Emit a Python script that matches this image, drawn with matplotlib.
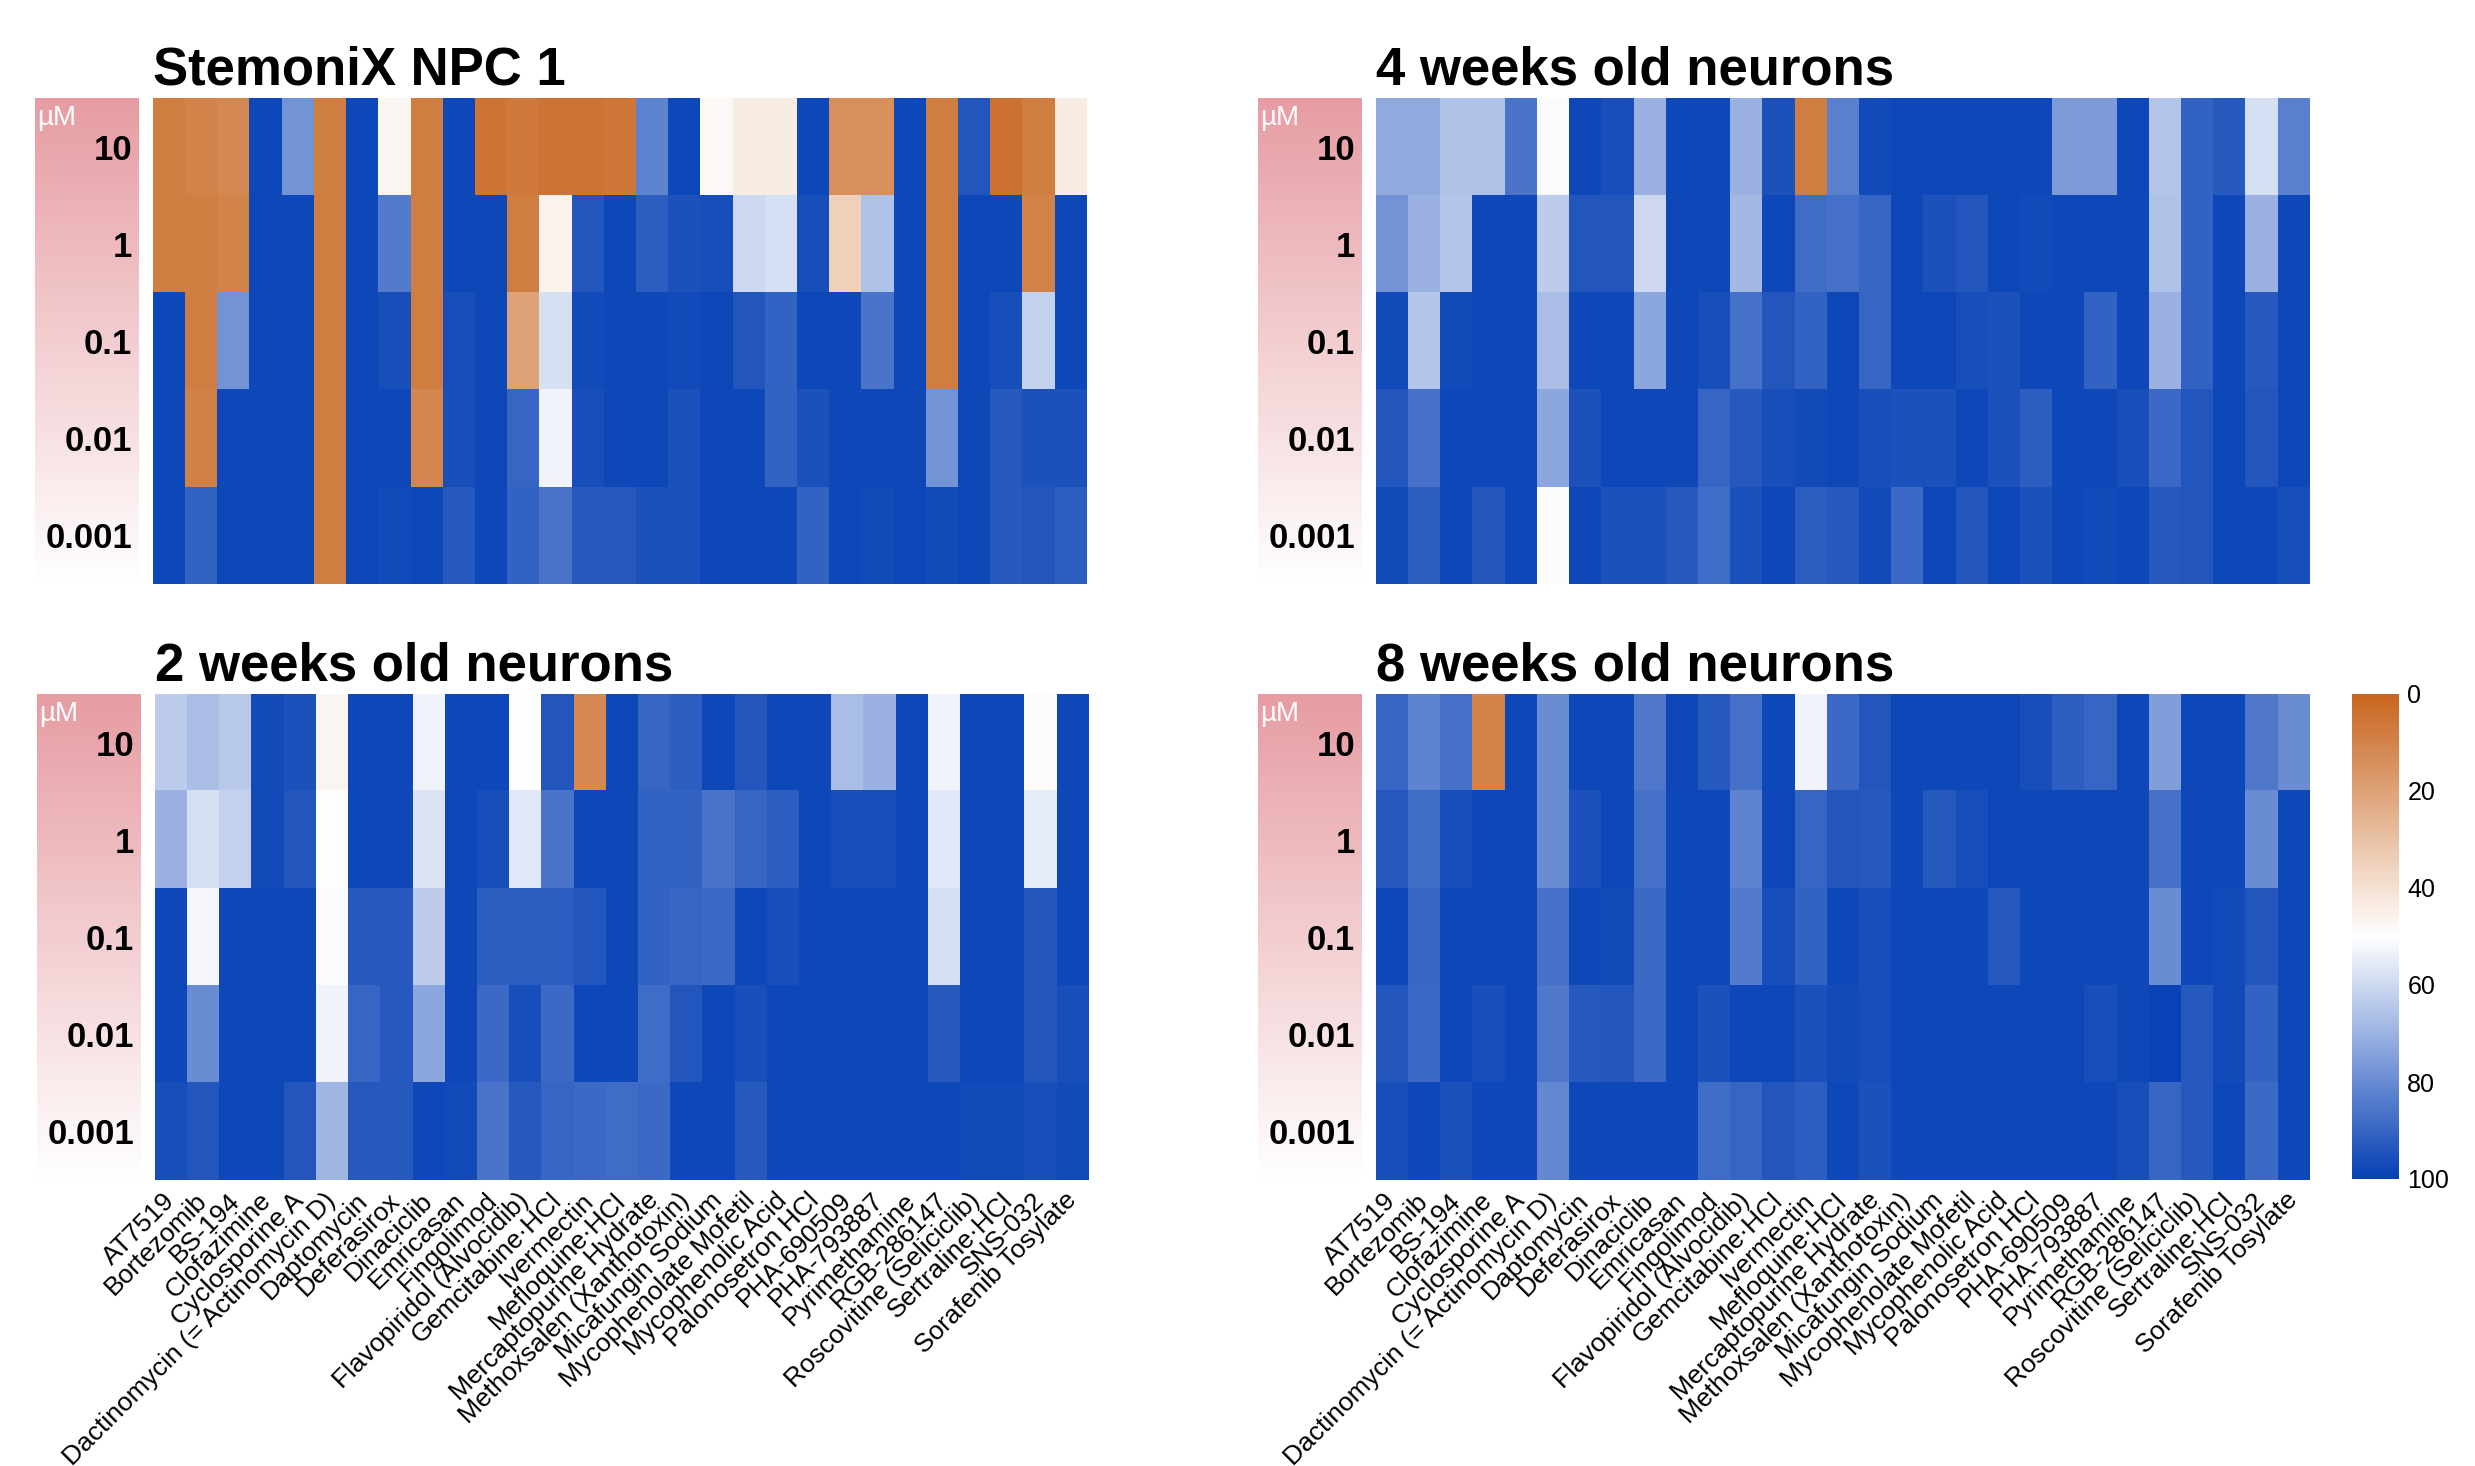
import numpy as np
import matplotlib
matplotlib.use("Agg")
import matplotlib.pyplot as plt
from matplotlib.colors import LinearSegmentedColormap

plt.rcParams['font.family'] = ['Liberation Sans', 'DejaVu Sans']

# Data (viability %, rows = concentration, cols = drugs)
drugs = ["AT7519", "Bortezomib", "BS-194", "Clofazimine", "Cyclosporine A",
         "Dactinomycin (= Actinomycin D)", "Daptomycin", "Deferasirox", "Dinaciclib",
         "Emricasan", "Fingolimod", "Flavopiridol (Alvocidib)", "Gemcitabine·HCl",
         "Ivermectin", "Mefloquine·HCl", "Mercaptopurine Hydrate",
         "Methoxsalen (Xanthotoxin)", "Micafungin Sodium", "Mycophenolate Mofetil",
         "Mycophenolic Acid", "Palonosetron HCl", "PHA-690509", "PHA-793887",
         "Pyrimethamine", "RGB-286147", "Roscovitine (Seliciclib)", "Sertraline·HCl",
         "SNS-032", "Sorafenib Tosylate"]
conc = ["10", "1", "0.1", "0.01", "0.001"]

npc1 = [
    [8, 10, 12, 98, 78, 8, 98, 47, 8, 98, 5, 7, 5, 5, 6, 82, 98, 48, 44, 44, 98, 14, 14, 98, 8, 94, 4, 8, 44],
    [8, 8, 10, 98, 98, 8, 98, 84, 8, 98, 98, 8, 46, 94, 98, 92, 95, 96, 60, 58, 96, 35, 66, 98, 8, 98, 98, 10, 98],
    [98, 8, 78, 98, 98, 8, 98, 96, 8, 96, 98, 20, 58, 97, 98, 98, 97, 98, 94, 91, 98, 98, 86, 98, 8, 98, 96, 62, 98],
    [98, 9, 98, 98, 98, 8, 98, 98, 11, 96, 98, 90, 53, 96, 98, 98, 95, 98, 98, 91, 95, 98, 98, 98, 78, 98, 93, 95, 95],
    [98, 91, 98, 98, 98, 8, 98, 97, 98, 93, 98, 91, 86, 93, 93, 95, 95, 98, 98, 98, 91, 98, 97, 98, 97, 98, 93, 94, 92],
]
wk4 = [
    [72, 72, 66, 66, 86, 51, 98, 96, 70, 98, 98, 70, 95, 8, 83, 97, 98, 98, 98, 98, 98, 76, 76, 98, 65, 91, 93, 58, 83],
    [78, 70, 65, 98, 98, 63, 94, 94, 60, 98, 98, 68, 98, 88, 87, 90, 98, 95, 94, 98, 97, 98, 98, 98, 66, 91, 98, 70, 98],
    [97, 65, 97, 98, 98, 67, 98, 98, 73, 98, 96, 87, 94, 91, 98, 90, 98, 98, 96, 95, 98, 98, 91, 98, 70, 91, 98, 93, 98],
    [94, 87, 98, 98, 98, 73, 95, 98, 98, 98, 90, 93, 96, 97, 98, 96, 95, 95, 98, 95, 92, 98, 98, 96, 89, 94, 98, 94, 98],
    [97, 92, 98, 94, 98, 49, 98, 95, 95, 93, 88, 95, 98, 92, 93, 97, 89, 98, 94, 98, 95, 98, 97, 98, 93, 94, 98, 98, 96],
]
wk2 = [
    [63, 67, 64, 97, 95, 47, 98, 98, 53, 98, 98, 50, 94, 12, 98, 90, 92, 98, 94, 98, 98, 67, 70, 98, 53, 98, 98, 49, 98],
    [70, 58, 62, 97, 94, 50, 98, 98, 57, 98, 96, 56, 86, 98, 98, 91, 91, 86, 90, 92, 98, 96, 96, 98, 56, 98, 98, 55, 98],
    [98, 52, 98, 98, 98, 51, 93, 93, 63, 98, 92, 92, 92, 94, 98, 91, 90, 89, 98, 96, 98, 98, 98, 98, 58, 98, 98, 94, 98],
    [98, 80, 98, 98, 98, 53, 90, 93, 73, 98, 89, 96, 89, 98, 98, 88, 94, 98, 96, 98, 98, 98, 98, 98, 93, 98, 98, 94, 96],
    [96, 94, 98, 98, 94, 69, 93, 93, 98, 97, 86, 93, 90, 89, 88, 89, 98, 98, 93, 98, 98, 98, 98, 98, 98, 97, 97, 96, 97],
]
wk8 = [
    [90, 82, 87, 10, 98, 80, 98, 98, 85, 98, 93, 87, 98, 53, 89, 94, 98, 98, 98, 98, 96, 92, 90, 98, 75, 98, 98, 85, 80],
    [93, 88, 96, 98, 98, 80, 95, 98, 87, 98, 98, 82, 98, 90, 94, 93, 98, 93, 96, 98, 98, 98, 98, 98, 87, 98, 98, 80, 98],
    [98, 90, 98, 98, 98, 87, 98, 97, 89, 98, 98, 84, 96, 91, 98, 96, 98, 98, 98, 93, 98, 98, 98, 98, 80, 98, 97, 94, 98],
    [94, 89, 98, 96, 98, 85, 93, 94, 89, 98, 95, 98, 98, 95, 97, 96, 98, 98, 98, 98, 98, 98, 96, 98, 99, 93, 97, 91, 98],
    [96, 98, 95, 98, 98, 81, 98, 98, 98, 98, 88, 90, 94, 92, 98, 95, 98, 98, 98, 98, 98, 98, 98, 96, 90, 93, 98, 89, 98],
]

# Layout helpers (pixel boxes -> figure fractions)
W, H = 2475, 1466


def box(x0, y0, x1, y1):
    return [x0 / W, 1 - y1 / H, (x1 - x0) / W, (y1 - y0) / H]


cmap = LinearSegmentedColormap.from_list("ob", [(0, "#c8651e"), (0.5, "#ffffff"), (1, "#0540b5")])
pink = LinearSegmentedColormap.from_list("pk", ["#ffffff", "#e69ca2"])

fig = plt.figure(figsize=(24.75, 14.66), dpi=100)

panels = [("StemoniX NPC 1", npc1, 153, 98, False),
          ("4 weeks old neurons", wk4, 1376, 98, False),
          ("2 weeks old neurons", wk2, 155, 694, True),
          ("8 weeks old neurons", wk8, 1376, 694, True)]

hm_w, hm_h = 934, 486
for title, vals, x0, y0, show_x in panels:
    # pink concentration strip
    sax = fig.add_axes(box(x0 - 118, y0, x0 - 14, y0 + hm_h))
    grad = np.linspace(1, 0, 256).reshape(-1, 1)
    sax.imshow(grad, cmap=pink, aspect="auto", vmin=0, vmax=1)
    sax.set_axis_off()
    sax.text(0.02, 0.985, "µM", color="white", fontsize=20, va="top", ha="left",
             transform=sax.transAxes)

    ax = fig.add_axes(box(x0, y0, x0 + hm_w, y0 + hm_h))
    im = ax.imshow(np.array(vals), cmap=cmap, vmin=0, vmax=100, aspect="auto",
                   interpolation="nearest")
    for s in ax.spines.values():
        s.set_visible(False)
    ax.set_yticks(range(len(conc)))
    ax.set_yticklabels(conc, fontsize=25, fontweight="bold")
    ax.tick_params(axis="y", length=0, pad=15)
    if show_x:
        ax.set_xticks(range(len(drugs)))
        ax.set_xticklabels(drugs, rotation=45, ha="right", va="center",
                           rotation_mode="anchor", fontsize=19)
        ax.tick_params(axis="x", length=0, pad=12)
    else:
        ax.set_xticks([])
    ax.set_title(title, loc="left", fontsize=38, fontweight="bold", pad=10)

# Colorbar
cax = fig.add_axes(box(2352, 694, 2399, 1179))
cb = fig.colorbar(im, cax=cax, ticks=[0, 20, 40, 60, 80, 100])
cax.invert_yaxis()
cb.outline.set_visible(False)
cax.tick_params(length=0, labelsize=18, pad=6)

fig.savefig("out.png", dpi=100)
